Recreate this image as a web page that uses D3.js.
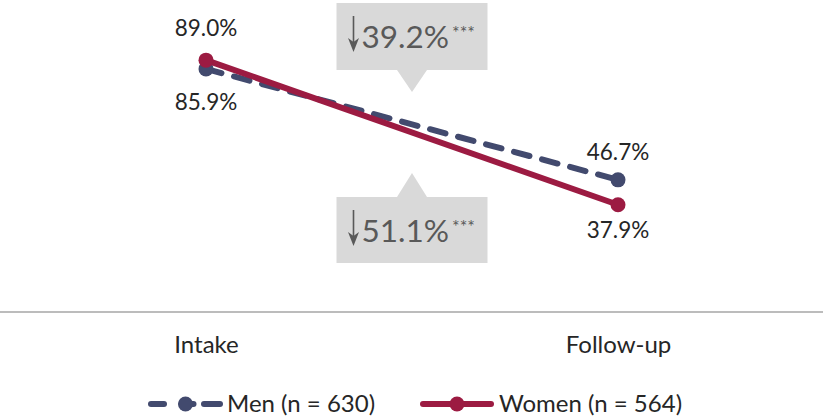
<!DOCTYPE html>
<html>
<head>
<meta charset="utf-8">
<script src="https://cdn.jsdelivr.net/npm/d3@7"></script>
<style>
  html, body { margin: 0; padding: 0; background: #ffffff; }
  svg { display: block; }
  text { font-family: Lato, "Open Sans", sans-serif; }
</style>
</head>
<body>
<svg id="chart" width="823" height="417"></svg>
<script>
// ---- data ----
const categories = ["Intake", "Follow-up"];
const seriesNames = ["Men (n = 630)", "Women (n = 564)"];
const menValues = [85.9, 46.7];
const womenValues = [89.0, 37.9];
const changeLabels = ["39.2%", "51.1%"];   // men, women
const significance = ["***", "***"];

// ---- layout ----
const W = 823, H = 417;
const svg = d3.select("#chart");
const x = d3.scalePoint().domain(categories).range([206, 618]);
const y = d3.scaleLinear().domain([0, 100]).range([312, 29]);

const colors = { men: "#424a6e", women: "#9c1b42" };
const series = [
  { key: "men", name: seriesNames[0], values: menValues, color: colors.men, dash: "16,13", labelDy: [41, -20] },
  { key: "women", name: seriesNames[1], values: womenValues, color: colors.women, dash: null, labelDy: [-24, 33] }
];

// baseline (axis line)
svg.append("line")
  .attr("x1", 0).attr("x2", W)
  .attr("y1", y(0)).attr("y2", y(0))
  .attr("stroke", "#a6a6a6").attr("stroke-width", 1.5);

// category labels
const xAxis = d3.axisBottom(x).tickSize(0).tickPadding(0);
const gx = svg.append("g").attr("transform", `translate(0,${y(0)})`).call(xAxis);
gx.select(".domain").remove();
gx.selectAll("text")
  .attr("y", 41).attr("dy", 0)
  .attr("font-size", 24)
  .attr("fill", "#262626")
  .style("font-family", "Lato, sans-serif");

// lines
const line = d3.line().x((d, i) => x(categories[i])).y(d => y(d));
series.forEach(s => {
  svg.append("path")
    .datum(s.values)
    .attr("d", line)
    .attr("fill", "none")
    .attr("stroke", s.color)
    .attr("stroke-width", 6)
    .attr("stroke-linecap", "round")
    .attr("stroke-dasharray", s.dash);
  svg.selectAll(null)
    .data(s.values)
    .enter().append("circle")
    .attr("cx", (d, i) => x(categories[i]))
    .attr("cy", d => y(d))
    .attr("r", 7.5)
    .attr("fill", s.color);
});

// value labels
series.forEach(s => {
  svg.selectAll(null)
    .data(s.values)
    .enter().append("text")
    .attr("x", (d, i) => x(categories[i]))
    .attr("y", (d, i) => y(d) + s.labelDy[i])
    .attr("text-anchor", "middle")
    .attr("font-size", 22.5)
    .attr("fill", "#262626")
    .text(d => d.toFixed(1) + "%");
});

// callouts
const cx = (x(categories[0]) + x(categories[1])) / 2;
function callout(boxTop, boxH, pointerUp, label, stars) {
  const g = svg.append("g");
  const bw = 151, left = cx - bw / 2;
  const fill = "#d9d9d9", ink = "#595959";
  g.append("rect")
    .attr("x", left).attr("y", boxTop)
    .attr("width", bw).attr("height", boxH)
    .attr("fill", fill);
  let pts;
  if (pointerUp) {
    pts = [[cx - 15, boxTop], [cx, boxTop - 24], [cx + 15, boxTop]];
  } else {
    pts = [[cx - 15, boxTop + boxH], [cx, boxTop + boxH + 22], [cx + 15, boxTop + boxH]];
  }
  g.append("path").attr("d", d3.line()(pts) + "Z").attr("fill", fill);
  const B = boxTop + 45;             // text baseline
  const ax = left + 17;              // arrow x
  // down arrow
  g.append("line")
    .attr("x1", ax).attr("x2", ax)
    .attr("y1", B - 32).attr("y2", B - 2)
    .attr("stroke", ink).attr("stroke-width", 1.6);
  g.append("path")
    .attr("d", d3.line()([[ax - 5.5, B - 10], [ax, B + 4], [ax + 5.5, B - 10], [ax, B - 6]]) + "Z")
    .attr("fill", ink);
  const t = g.append("text")
    .attr("x", left + 25)
    .attr("y", B)
    .attr("fill", ink);
  t.append("tspan").attr("font-size", 31.5).text(label);
  t.append("tspan").attr("font-size", 18).attr("dy", -9).attr("dx", 3).text(stars);
}
callout(3, 67, false, changeLabels[0], significance[0]);
callout(197, 66, true, changeLabels[1], significance[1]);

// legend
const legendY = 404;
const legendItems = [
  { s: series[0], x0: 148, x1: 223, tx: 227 },
  { s: series[1], x0: 420, x1: 494, tx: 499 }
];
legendItems.forEach(it => {
  const g = svg.append("g");
  const mid = (it.x0 + it.x1) / 2;
  if (it.s.dash) {
    const segs = [[it.x0 + 3, it.x0 + 16], [mid - 4, mid + 8], [it.x1 - 19, it.x1 - 3]];
    segs.forEach(sg => g.append("line")
      .attr("x1", sg[0]).attr("x2", sg[1]).attr("y1", legendY).attr("y2", legendY)
      .attr("stroke", it.s.color).attr("stroke-width", 6).attr("stroke-linecap", "round"));
  } else {
    g.append("line")
      .attr("x1", it.x0 + 3).attr("x2", it.x1 - 3).attr("y1", legendY).attr("y2", legendY)
      .attr("stroke", it.s.color).attr("stroke-width", 6).attr("stroke-linecap", "round");
  }
  g.append("circle").attr("cx", mid).attr("cy", legendY).attr("r", 7.5).attr("fill", it.s.color);
  g.append("text")
    .attr("x", it.tx).attr("y", legendY + 8)
    .attr("font-size", 24).attr("fill", "#262626")
    .text(it.s.name);
});
</script>
</body>
</html>
